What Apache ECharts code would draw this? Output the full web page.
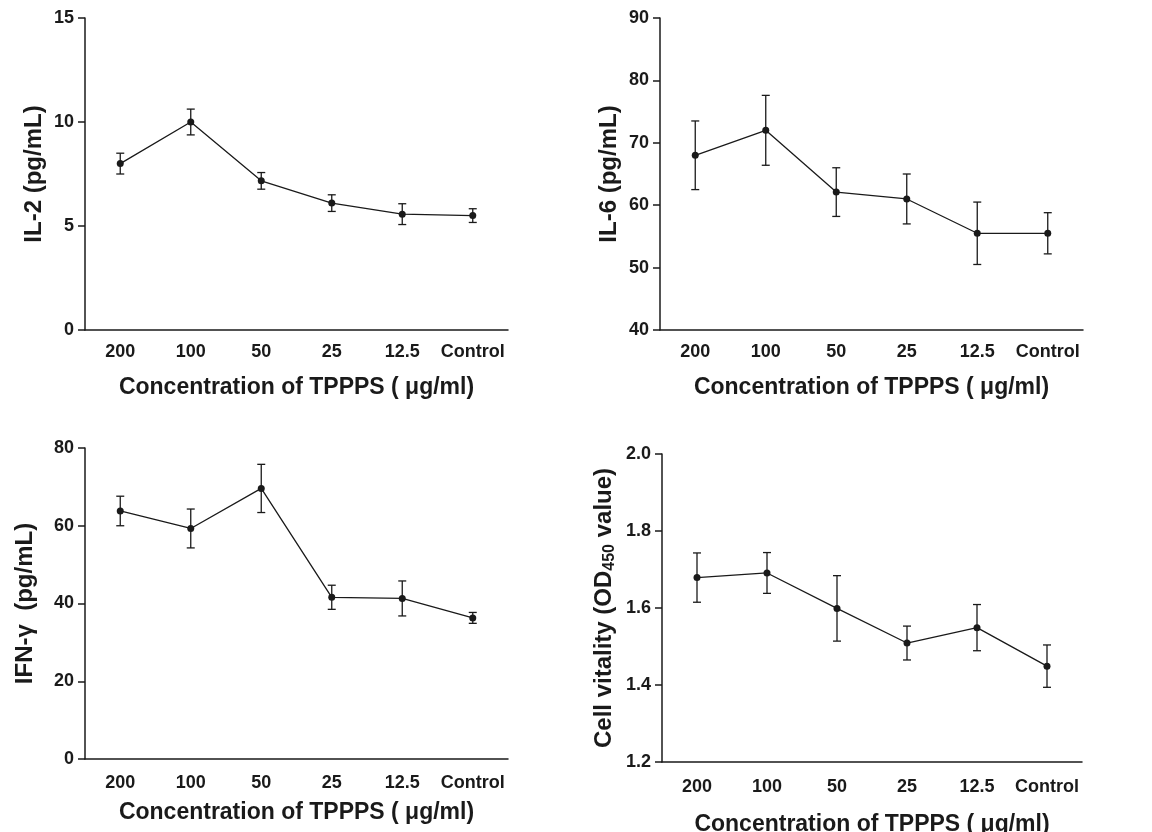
<!DOCTYPE html>
<html lang="en">
<head>
    <meta charset="UTF-8"/>
    <title>TPPPS cytokine panels</title>
    <style>
        html, body {
            margin: 0;
            padding: 0;
            width: 100vw;
            height: 100vh;
            background: #ffffff;
            overflow: hidden;
        }

        #chart {
            width: 1152px;
            height: 832px;
        }
    </style>
</head>
<body>
<div id="chart"></div>
<script src="https://cdn.jsdelivr.net/npm/echarts@6/dist/echarts.min.js"></script>
<script>
    const chart = echarts.init(document.getElementById('chart'));

    // Concentration groups along the x axis
    const doses = ['200', '100', '50', '25', '12.5', 'Control'];

    // Means and error (+/-) for each panel
    const il2Mean = [8.0, 10.0, 7.17, 6.1, 5.57, 5.5];
    const il2Err = [0.5, 0.62, 0.4, 0.4, 0.5, 0.33];
    const il6Mean = [68.0, 72.0, 62.1, 61.0, 55.5, 55.5];
    const il6Err = [5.5, 5.6, 3.9, 4.0, 5.0, 3.3];
    const ifnMean = [63.8, 59.3, 69.6, 41.6, 41.3, 36.3];
    const ifnErr = [3.8, 5.0, 6.2, 3.1, 4.5, 1.4];
    const odMean = [1.679, 1.691, 1.599, 1.509, 1.549, 1.449];
    const odErr = [0.064, 0.053, 0.085, 0.044, 0.06, 0.055];

    const FONT = "'Liberation Sans', Arial, sans-serif";
    const INK = '#1a1a1a';

    const panels = [
        {grid: {left: 85, top: 18, width: 423, height: 312}, mean: il2Mean, err: il2Err,
            min: 0, max: 15, interval: 5, digits: 0, yName: 'IL-2 (pg/mL)', yGap: 39, labelMargin: 13, xGap: 46},
        {grid: {left: 660, top: 18, width: 423, height: 312}, mean: il6Mean, err: il6Err,
            min: 40, max: 90, interval: 10, digits: 0, yName: 'IL-6 (pg/mL)', yGap: 39, labelMargin: 13, xGap: 46},
        {grid: {left: 85, top: 448, width: 423, height: 311}, mean: ifnMean, err: ifnErr,
            min: 0, max: 80, interval: 20, digits: 0, yName: 'IFN-γ  (pg/mL)', yGap: 48, labelMargin: 15, xGap: 42},
        {grid: {left: 662, top: 454, width: 420, height: 308}, mean: odMean, err: odErr,
            min: 1.2, max: 2.0, interval: 0.2, digits: 1, yName: '{a|Cell vitality (OD}{s|450}{a| value)}', yGap: 44,
            labelMargin: 16, xGap: 51}
    ];

    function errorBars(params, api) {
        const lo = api.coord([api.value(0), api.value(1)]);
        const hi = api.coord([api.value(0), api.value(2)]);
        const cap = 4;
        const style = {stroke: INK, lineWidth: 1.3};
        return {
            type: 'group',
            children: [
                {type: 'line', shape: {x1: lo[0], y1: lo[1], x2: hi[0], y2: hi[1]}, style: style},
                {type: 'line', shape: {x1: lo[0] - cap, y1: lo[1], x2: lo[0] + cap, y2: lo[1]}, style: style},
                {type: 'line', shape: {x1: hi[0] - cap, y1: hi[1], x2: hi[0] + cap, y2: hi[1]}, style: style}
            ]
        };
    }

    const option = {
        backgroundColor: '#ffffff',
        animation: false,
        // fixed plot boxes, labels may run to the page edge
        grid: panels.map(p => Object.assign({outerBoundsMode: 'none', containLabel: false}, p.grid)),
        xAxis: panels.map((p, i) => ({
            type: 'category',
            gridIndex: i,
            data: doses,
            boundaryGap: true,
            name: 'Concentration of TPPPS ( μg/ml)',
            nameLocation: 'middle',
            nameGap: p.xGap,
            nameTextStyle: {fontFamily: FONT, fontWeight: 'bold', fontSize: 23, color: INK},
            axisLine: {lineStyle: {color: INK, width: 1.5}},
            axisTick: {alignWithLabel: true, length: 6, lineStyle: {color: INK, width: 1.5}},
            axisLabel: {fontFamily: FONT, fontWeight: 'bold', fontSize: 18, color: INK, margin: p.labelMargin, interval: 0},
            splitLine: {show: false}
        })),
        yAxis: panels.map((p, i) => ({
            type: 'value',
            gridIndex: i,
            min: p.min,
            max: p.max,
            interval: p.interval,
            name: p.yName,
            nameLocation: 'middle',
            nameGap: p.yGap,
            nameTextStyle: {
                fontFamily: FONT, fontWeight: 'bold', fontSize: 24, color: INK,
                rich: {
                    a: {fontFamily: FONT, fontWeight: 'bold', fontSize: 24, color: INK},
                    s: {fontFamily: FONT, fontWeight: 'bold', fontSize: 16, color: INK, padding: [12, 0, 0, 0]}
                }
            },
            axisLine: {show: true, lineStyle: {color: INK, width: 1.5}},
            axisTick: {show: true, length: 7, lineStyle: {color: INK, width: 1.5}},
            axisLabel: {
                fontFamily: FONT, fontWeight: 'bold', fontSize: 18, color: INK, margin: 11,
                formatter: v => v.toFixed(p.digits)
            },
            splitLine: {show: false}
        })),
        series: panels.flatMap((p, i) => [
            {
                type: 'custom',
                xAxisIndex: i,
                yAxisIndex: i,
                renderItem: errorBars,
                data: p.mean.map((m, j) => [j, m - p.err[j], m + p.err[j]]),
                z: 2
            },
            {
                type: 'line',
                xAxisIndex: i,
                yAxisIndex: i,
                data: p.mean,
                symbol: 'circle',
                symbolSize: 7,
                itemStyle: {color: INK},
                lineStyle: {color: INK, width: 1.3},
                z: 3
            }
        ])
    };

    chart.setOption(option);
</script>
</body>
</html>
